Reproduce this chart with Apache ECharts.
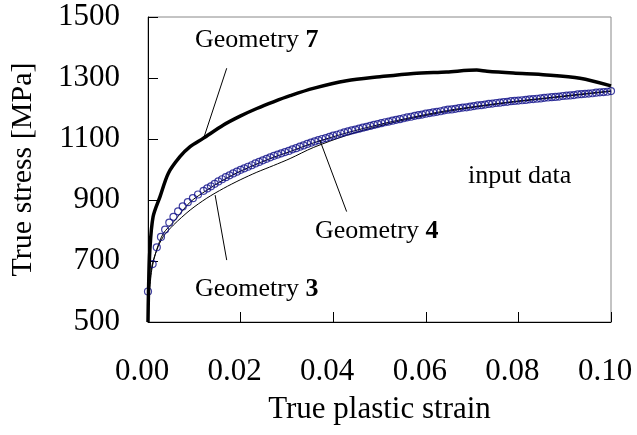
<!DOCTYPE html>
<html>
<head>
<meta charset="utf-8">
<script src="https://cdn.jsdelivr.net/npm/echarts@6/dist/echarts.min.js"></script>
<style>
  html, body { margin: 0; padding: 0; background: #fff; }
  #chart { width: 637px; height: 435px; }
</style>
</head>
<body>
<div id="chart"></div>
<script>
// 轴刻度
const xTicks = [0, 0.02, 0.04, 0.06, 0.08, 0.10]
const yTicks = [500, 700, 900, 1100, 1300, 1500]

// input data (圆圈) [strain, stress]
const inputData = [
  [0.0000, 600], [0.0010, 690], [0.0019, 745], [0.0028, 779], [0.0037, 803],
  [0.0046, 826], [0.0055, 845], [0.0065, 863], [0.0075, 879], [0.0086, 893],
  [0.0097, 906], [0.0108, 918], [0.0120, 930], [0.0128, 938], [0.0136, 945],
  [0.0144, 953], [0.0152, 961], [0.0160, 968], [0.0168, 975], [0.0176, 981],
  [0.0184, 987], [0.0192, 993], [0.0200, 999], [0.0208, 1004], [0.0216, 1009],
  [0.0224, 1014], [0.0232, 1020], [0.0240, 1025], [0.0248, 1030], [0.0256, 1035],
  [0.0264, 1040], [0.0272, 1045], [0.0280, 1049], [0.0288, 1053], [0.0296, 1057],
  [0.0304, 1061], [0.0312, 1066], [0.0320, 1070], [0.0328, 1075], [0.0336, 1079],
  [0.0344, 1084], [0.0352, 1088], [0.0360, 1092], [0.0368, 1096], [0.0376, 1100],
  [0.0384, 1103], [0.0392, 1107], [0.0400, 1111], [0.0408, 1114], [0.0416, 1118],
  [0.0424, 1122], [0.0432, 1125], [0.0440, 1128], [0.0448, 1131], [0.0456, 1134],
  [0.0464, 1137], [0.0472, 1140], [0.0480, 1143], [0.0488, 1146], [0.0496, 1149],
  [0.0504, 1152], [0.0512, 1155], [0.0520, 1157], [0.0528, 1160], [0.0536, 1163],
  [0.0544, 1165], [0.0552, 1168], [0.0560, 1171], [0.0568, 1173], [0.0576, 1176],
  [0.0584, 1178], [0.0592, 1180], [0.0600, 1183], [0.0608, 1185], [0.0616, 1187],
  [0.0624, 1189], [0.0632, 1191], [0.0640, 1194], [0.0648, 1196], [0.0656, 1197],
  [0.0664, 1199], [0.0672, 1201], [0.0680, 1203], [0.0688, 1204], [0.0696, 1206],
  [0.0704, 1208], [0.0712, 1210], [0.0720, 1211], [0.0728, 1213], [0.0736, 1215],
  [0.0744, 1216], [0.0752, 1218], [0.0760, 1219], [0.0768, 1221], [0.0776, 1222],
  [0.0784, 1224], [0.0792, 1225], [0.0800, 1226], [0.0808, 1227], [0.0816, 1228],
  [0.0824, 1230], [0.0832, 1231], [0.0840, 1232], [0.0848, 1233], [0.0856, 1235],
  [0.0864, 1236], [0.0872, 1237], [0.0880, 1238], [0.0888, 1239], [0.0896, 1241],
  [0.0904, 1242], [0.0912, 1243], [0.0920, 1244], [0.0928, 1246], [0.0936, 1247],
  [0.0944, 1248], [0.0952, 1249], [0.0960, 1250], [0.0968, 1252], [0.0976, 1253],
  [0.0984, 1254], [0.0992, 1255], [0.1000, 1257]
]

// Geometry 7 (粗线)
const geom7 = [
  [0, 500], [0.0001, 595], [0.0004, 736], [0.0011, 845], [0.0026, 911],
  [0.0044, 988], [0.0069, 1042], [0.0091, 1075], [0.0119, 1102], [0.0163, 1146],
  [0.0199, 1175], [0.0235, 1200], [0.0271, 1222], [0.0307, 1242], [0.0357, 1266],
  [0.0429, 1291], [0.0501, 1304], [0.0573, 1315], [0.0645, 1320], [0.0710, 1326],
  [0.0732, 1322], [0.0789, 1316], [0.0861, 1310], [0.0933, 1299], [0.1000, 1274]
]

// Geometry 4 (细线)
const geom4 = [
  [0, 540], [0.0008, 670], [0.0019, 738], [0.0033, 790], [0.0055, 828],
  [0.0091, 893], [0.0127, 932], [0.0163, 966], [0.0199, 994], [0.0235, 1018],
  [0.0271, 1040], [0.0307, 1059], [0.0357, 1087], [0.0429, 1120], [0.0501, 1148],
  [0.0573, 1172], [0.0645, 1193], [0.0717, 1209], [0.0789, 1223], [0.0861, 1235],
  [0.0933, 1247], [0.1000, 1258]
]

// Geometry 3 (细线, 最下)
const geom3 = [
  [0, 560], [0.0008, 681], [0.0019, 736], [0.0033, 780], [0.0055, 818],
  [0.0091, 867], [0.0127, 906], [0.0163, 938], [0.0199, 966], [0.0235, 991],
  [0.0271, 1013], [0.0307, 1036], [0.0357, 1072], [0.0429, 1112], [0.0501, 1143],
  [0.0573, 1169], [0.0645, 1190], [0.0717, 1207], [0.0789, 1221], [0.0861, 1233],
  [0.0933, 1245], [0.1000, 1256]
]

// 指示线 (数据坐标)
const leaders = [
  [[0.0170, 1332], [0.0119, 1097]],
  [[0.0145, 916], [0.0170, 703]],
  [[0.0371, 1097], [0.0429, 862]]
]

const font = 'Liberation Serif'

function annot (x, y, text, num) {
  return {
    type: 'text',
    x,
    y,
    z: 100,
    style: {
      text: num ? text + ' {b|' + num + '}' : text,
      fontFamily: font,
      fontSize: 26,
      fill: '#000',
      verticalAlign: 'middle',
      rich: {
        b: { fontFamily: font, fontSize: 26, fontWeight: 'bold', fill: '#000' }
      }
    }
  }
}

const chart = echarts.init(document.getElementById('chart'), null, { renderer: 'canvas' })
const option = {
  animation: false,
  backgroundColor: '#fff',
  grid: {
    left: 148,
    right: 26,
    top: 17,
    bottom: 113,
    show: true,
    borderColor: '#888',
    borderWidth: 1
  },
  xAxis: {
    type: 'value',
    min: xTicks[0],
    max: xTicks[xTicks.length - 1],
    interval: 0.02,
    name: 'True plastic strain',
    nameLocation: 'middle',
    nameGap: 72,
    nameTextStyle: { fontFamily: font, fontSize: 31, color: '#000' },
    axisLine: { show: true, onZero: false, lineStyle: { color: '#000', width: 1 } },
    axisTick: { show: true, inside: true, length: 10, lineStyle: { color: '#000' } },
    splitLine: { show: false },
    axisLabel: {
      margin: 34,
      fontFamily: font,
      fontSize: 31,
      color: '#000',
      padding: [0, 12, 0, 0],
      formatter: v => v.toFixed(2)
    }
  },
  yAxis: {
    type: 'value',
    min: yTicks[0],
    max: yTicks[yTicks.length - 1],
    interval: 200,
    name: 'True stress [MPa]',
    nameLocation: 'middle',
    nameGap: 110,
    nameTextStyle: { fontFamily: font, fontSize: 30, color: '#000' },
    axisLine: { show: true, onZero: false, lineStyle: { color: '#000', width: 1 } },
    axisTick: { show: true, inside: true, length: 10, lineStyle: { color: '#000' } },
    splitLine: { show: false },
    axisLabel: {
      margin: 28,
      fontFamily: font,
      fontSize: 31,
      color: '#000',
      formatter: v => String(v)
    }
  },
  series: [
    {
      name: 'Geometry 3',
      type: 'line',
      data: geom3,
      showSymbol: false,
      smooth: 0.3,
      lineStyle: { color: '#000', width: 1 },
      z: 2
    },
    {
      name: 'Geometry 4',
      type: 'line',
      data: geom4,
      showSymbol: false,
      smooth: 0.3,
      lineStyle: { color: '#000', width: 1 },
      z: 2
    },
    {
      name: 'input data',
      type: 'scatter',
      data: inputData,
      symbol: 'circle',
      symbolSize: 7,
      itemStyle: { color: 'rgba(0,0,0,0)', borderColor: '#10108a', borderWidth: 1.2 },
      z: 3
    },
    {
      name: 'Geometry 7',
      type: 'line',
      data: geom7,
      showSymbol: false,
      smooth: 0.3,
      lineStyle: { color: '#000', width: 3.5 },
      z: 4,
      markLine: {
        silent: true,
        symbol: 'none',
        label: { show: false },
        lineStyle: { color: '#000', width: 1, type: 'solid' },
        data: leaders.map(l => [{ coord: l[0] }, { coord: l[1] }])
      }
    }
  ],
  graphic: [
    annot(195, 40, 'Geometry', '7'),
    annot(195, 289, 'Geometry', '3'),
    annot(315, 231, 'Geometry', '4'),
    annot(468, 176, 'input data')
  ]
}
chart.setOption(option)
</script>
</body>
</html>
